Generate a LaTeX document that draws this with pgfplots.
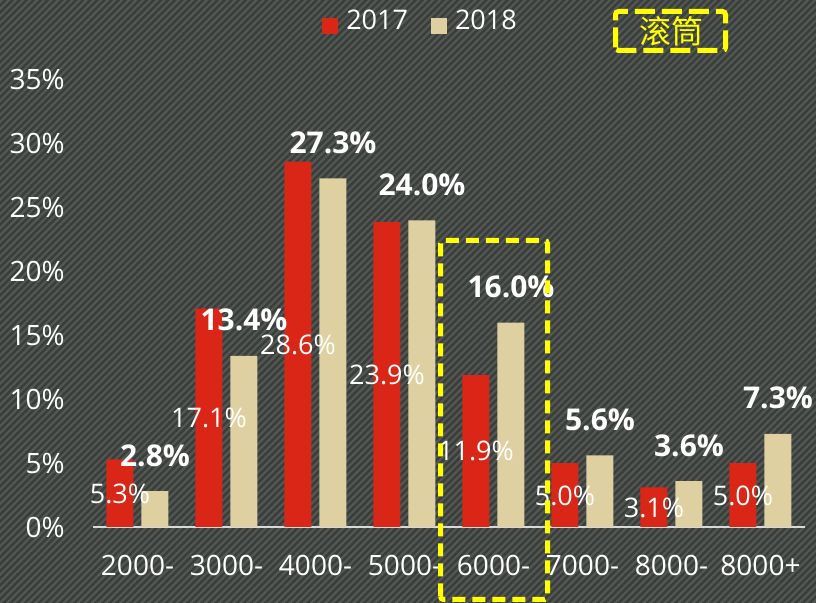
\documentclass[border=0pt]{standalone}
\usepackage{pgfplots}
\pgfplotsset{compat=1.18}
\usepackage{pgfplotstable}
\usepackage{fontspec}
\setmainfont{Open Sans}
\newfontfamily\cjk{Noto Sans CJK SC}
\usetikzlibrary{patterns.meta}
\definecolor{bgdark}{RGB}{58,62,59}
\definecolor{bgstripe}{RGB}{84,88,85}
\definecolor{cred}{RGB}{218,38,22}
\definecolor{cbeige}{RGB}{222,208,161}
\definecolor{axgray}{RGB}{217,217,217}
\definecolor{cyel}{RGB}{255,255,0}
\pgfplotstableread{
x a b
0 5.3 2.8
1 17.1 13.4
2 28.6 27.3
3 23.9 24.0
4 11.9 16.0
5 5.0 5.6
6 3.1 3.6
7 5.0 7.3
}\data
\begin{document}
\begin{tikzpicture}
\fill[bgdark] (0,0) rectangle (408pt,301.5pt);
\fill[pattern={Lines[angle=45,distance=2.5pt,line width=1.1pt]}, pattern color=bgstripe] (0,0) rectangle (408pt,301.5pt);
\path[use as bounding box] (0,0) rectangle (408pt,301.5pt);
\begin{axis}[
  at={(46.5pt,38pt)}, anchor=south west,
  scale only axis, width=356pt, height=223.5pt,
  xmin=-0.5, xmax=7.5, ymin=0, ymax=35,
  clip=false,
  /pgf/number format/assume math mode=true,
  axis x line*=bottom, axis y line*=left,
  x axis line style={draw=axgray, line width=1pt},
  y axis line style={draw=none},
  major tick length=0pt,
  xtick={0,...,7},
  xticklabels={2000-,3000-,4000-,5000-,6000-,7000-,8000-,8000+},
  ytick={0,5,...,35},
  yticklabels={0\%,5\%,10\%,15\%,20\%,25\%,30\%,35\%},
  tick label style={font=\fontsize{14}{16}\selectfont, text=white},
  xticklabel style={anchor=base, inner sep=0pt, yshift=-24.5pt},
  yticklabel style={anchor=east, inner sep=0pt, xshift=-14pt},
  legend style={at={(rel axis cs:0.4586,1.1298)}, anchor=center, draw=none, fill=none,
    inner sep=0pt, outer sep=0pt,
    font=\fontsize{13.5}{16}\selectfont, text=white,
    nodes={inner sep=0pt, text=white},
    /tikz/every odd column/.append style={column sep=4pt},
    /tikz/every even column/.append style={column sep=11.5pt}},
  legend columns=2,
]
\addplot[ybar, bar width=13.5pt, bar shift=-8.75pt, fill=cred, draw=none,
  legend image code/.code={\fill[cred] (0pt,-6.5pt) rectangle (8pt,1.5pt);}]
  table[x=x,y=a]{\data};
\addlegendentry{2017}
\addplot[ybar, bar width=13.5pt, bar shift=8.75pt, fill=cbeige, draw=none,
  legend image code/.code={\fill[cbeige] (0pt,-6.5pt) rectangle (8pt,1.5pt);}]
  table[x=x,y=b]{\data};
\addlegendentry{2018}
\addplot[draw=none, mark=none, forget plot,
  point meta=\thisrow{a},
  nodes near coords={\pgfmathprintnumber[fixed,fixed zerofill,precision=1]{\pgfplotspointmeta}\%},
  every node near coord/.style={anchor=base, inner sep=0pt, xshift=-8.75pt, yshift=-5pt,
    text=white, font=\fontsize{13.5}{16}\selectfont}]
  table[x=x, y expr=\thisrow{a}/2]{\data};
\addplot[draw=none, mark=none, forget plot,
  point meta=\thisrow{b},
  nodes near coords={\pgfmathprintnumber[fixed,fixed zerofill,precision=1]{\pgfplotspointmeta}\%},
  every node near coord/.style={anchor=base, inner sep=0pt, xshift=8.75pt, yshift=12.5pt,
    text=white, font=\fontsize{15}{18}\selectfont\bfseries}]
  table[x=x, y=b]{\data};
\end{axis}
\draw[cyel, line width=2.5pt, dash pattern=on 6.5pt off 3.5pt, rounded corners=1.5pt]
  (220.25pt,1.75pt) rectangle (273.75pt,181.25pt);
\draw[cyel, line width=2.5pt, dash pattern=on 10pt off 3.5pt, rounded corners=1.5pt]
  (307.75pt,276.25pt) rectangle (362.75pt,295.75pt);
\node[text=cyel, font=\cjk\fontsize{16}{18}\selectfont, inner sep=0pt] at (335.5pt,286pt) {滚筒};
\end{tikzpicture}
\end{document}
